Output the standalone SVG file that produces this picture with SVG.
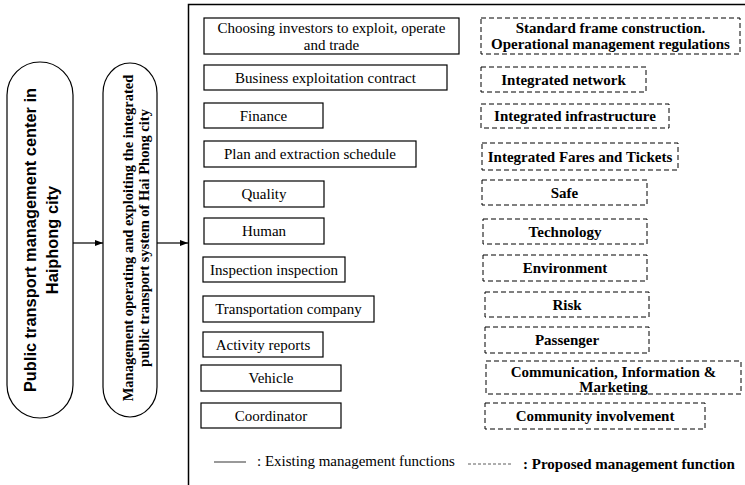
<svg xmlns="http://www.w3.org/2000/svg" width="745" height="485" viewBox="0 0 745 485">
  <style>
    .solid { fill: #fff; stroke: #000; stroke-width: 1.2; }
    .dash { fill: #fff; stroke: #000; stroke-width: 1; stroke-dasharray: 5 3; }
    .pill { fill: #fff; stroke: #000; stroke-width: 1.2; }
    .t { font-family: "Liberation Serif", "Times New Roman", serif; font-size: 15px; fill: #000; text-anchor: middle; }
    .b { font-family: "Liberation Serif", "Times New Roman", serif; font-size: 15px; font-weight: bold; fill: #000; text-anchor: middle; }
    .sans { font-family: "Liberation Sans", Arial, sans-serif; font-size: 16.4px; font-weight: bold; fill: #000; text-anchor: middle; }
    .line { fill: none; stroke: #000; stroke-width: 1.2; }
  </style>
  <defs>
    <marker id="arrow" viewBox="0 0 8 6" refX="8" refY="3" markerWidth="8" markerHeight="6" markerUnits="userSpaceOnUse" orient="auto">
      <path d="M0,0 L8,3 L0,6 Z" fill="#000"/>
    </marker>
  </defs>

  <rect width="745" height="485" fill="#fff"/>

  <!-- connectors -->
  <g id="connectors">
    <line class="line" x1="73" y1="243" x2="103" y2="243" marker-end="url(#arrow)"/>
    <line class="line" x1="157" y1="243" x2="188" y2="243" marker-end="url(#arrow)"/>
  </g>

  <!-- function frame -->
  <g id="frame">
    <path d="M188.5,485 V4.5 H745" fill="none" stroke="#000" stroke-width="1.5"/>
  </g>

  <!-- left column -->
  <g id="center">
    <rect class="pill" x="7" y="62" width="66" height="356" rx="33" ry="33"/>
    <text class="sans" transform="translate(36,240) rotate(-90)">Public transport management center in</text>
    <text class="sans" transform="translate(58,240) rotate(-90)">Haiphong city</text>
  </g>
  <g id="system">
    <rect class="pill" x="103" y="63" width="54" height="354" rx="27" ry="30"/>
    <text class="b" style="font-size:14.5px" transform="translate(133,238) rotate(-90)">Management operating and exploiting the integrated</text>
    <text class="b" style="font-size:14.5px" transform="translate(149,238) rotate(-90)">public transport system of Hai Phong city</text>
  </g>

  <!-- existing management functions -->
  <g id="f-investors">
    <rect class="solid" x="204" y="18" width="255" height="36"/>
    <text class="t" x="331.5" y="33">Choosing investors to exploit, operate</text>
    <text class="t" x="331.5" y="50">and trade</text>
  </g>
  <g id="f-contract">
    <rect class="solid" x="204" y="65" width="243" height="25"/>
    <text class="t" x="325.5" y="82.5">Business exploitation contract</text>
  </g>
  <g id="f-finance">
    <rect class="solid" x="204" y="103" width="119" height="25"/>
    <text class="t" x="263.5" y="120.5">Finance</text>
  </g>
  <g id="f-plan">
    <rect class="solid" x="204" y="141" width="212" height="26"/>
    <text class="t" x="310" y="159">Plan and extraction schedule</text>
  </g>
  <g id="f-quality">
    <rect class="solid" x="204" y="181" width="120" height="26"/>
    <text class="t" x="264" y="199">Quality</text>
  </g>
  <g id="f-human">
    <rect class="solid" x="204" y="218" width="120" height="26"/>
    <text class="t" x="264" y="236">Human</text>
  </g>
  <g id="f-inspection">
    <rect class="solid" x="203" y="257" width="142" height="25"/>
    <text class="t" x="274" y="274.5">Inspection inspection</text>
  </g>
  <g id="f-company">
    <rect class="solid" x="203" y="296" width="171" height="26"/>
    <text class="t" x="288.5" y="314">Transportation company</text>
  </g>
  <g id="f-reports">
    <rect class="solid" x="203" y="332" width="120" height="25"/>
    <text class="t" x="263" y="349.5">Activity reports</text>
  </g>
  <g id="f-vehicle">
    <rect class="solid" x="201" y="365" width="140" height="26"/>
    <text class="t" x="271" y="383">Vehicle</text>
  </g>
  <g id="f-coordinator">
    <rect class="solid" x="201" y="403" width="140" height="25"/>
    <text class="t" x="271" y="420.5">Coordinator</text>
  </g>

  <!-- proposed management functions -->
  <g id="p-standard">
    <rect class="dash" x="481" y="18" width="259" height="36"/>
    <text class="b" x="610.5" y="33">Standard frame construction.</text>
    <text class="b" x="610.5" y="49">Operational management regulations</text>
  </g>
  <g id="p-network">
    <rect class="dash" x="481" y="67" width="165" height="25"/>
    <text class="b" x="563.5" y="84.5">Integrated network</text>
  </g>
  <g id="p-infrastructure">
    <rect class="dash" x="481" y="104" width="188" height="24"/>
    <text class="b" x="575" y="121">Integrated infrastructure</text>
  </g>
  <g id="p-fares">
    <rect class="dash" x="482" y="143" width="196" height="27"/>
    <text class="b" x="580" y="161.5">Integrated Fares and Tickets</text>
  </g>
  <g id="p-safe">
    <rect class="dash" x="482" y="180" width="165" height="25"/>
    <text class="b" x="564.5" y="197.5">Safe</text>
  </g>
  <g id="p-technology">
    <rect class="dash" x="483" y="219" width="164" height="25"/>
    <text class="b" x="565" y="236.5">Technology</text>
  </g>
  <g id="p-environment">
    <rect class="dash" x="483" y="255" width="164" height="26"/>
    <text class="b" x="565" y="273">Environment</text>
  </g>
  <g id="p-risk">
    <rect class="dash" x="485" y="292" width="164" height="25"/>
    <text class="b" x="567" y="309.5">Risk</text>
  </g>
  <g id="p-passenger">
    <rect class="dash" x="485" y="327" width="164" height="26"/>
    <text class="b" x="567" y="345">Passenger</text>
  </g>
  <g id="p-communication">
    <rect class="dash" x="486" y="361" width="255" height="33"/>
    <text class="b" x="613.5" y="377">Communication, Information &amp;</text>
    <text class="b" x="613.5" y="392">Marketing</text>
  </g>
  <g id="p-community">
    <rect class="dash" x="485" y="403" width="220" height="26"/>
    <text class="b" x="595" y="421">Community involvement</text>
  </g>

  <!-- legend -->
  <g id="legend">
    <line x1="214" y1="462" x2="246" y2="462" stroke="#555" stroke-width="1.2"/>
    <text class="t" x="257" y="466" style="text-anchor:start">: Existing management functions</text>
    <line x1="468" y1="464" x2="513" y2="464" stroke="#333" stroke-width="0.8" stroke-dasharray="3 2"/>
    <text class="b" x="523" y="469" style="text-anchor:start">: Proposed management function</text>
  </g>
</svg>
